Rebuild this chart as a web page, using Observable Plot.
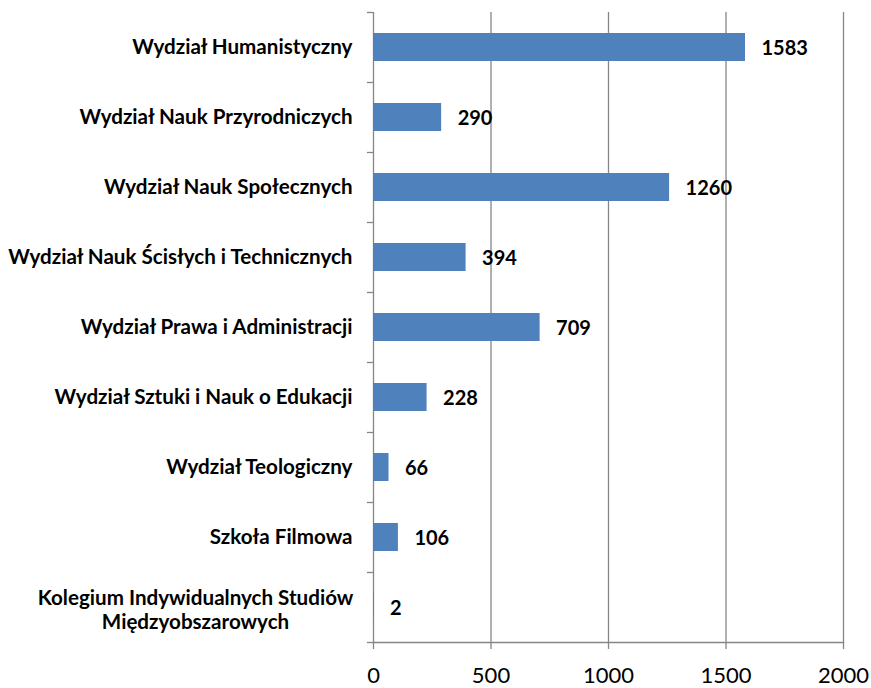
<!DOCTYPE html>
<html>
<head>
<meta charset="utf-8">
<script src="https://cdn.jsdelivr.net/npm/d3@7"></script>
<script src="https://cdn.jsdelivr.net/npm/@observablehq/plot@0.6"></script>
<style>
  html, body { margin: 0; padding: 0; background: #fff; }
</style>
</head>
<body>
<div id="chart"></div>
<script>
const categories = [
  "Wydział Humanistyczny",
  "Wydział Nauk Przyrodniczych",
  "Wydział Nauk Społecznych",
  "Wydział Nauk Ścisłych i Technicznych",
  "Wydział Prawa i Administracji",
  "Wydział Sztuki i Nauk o Edukacji",
  "Wydział Teologiczny",
  "Szkoła Filmowa",
  "Kolegium Indywidualnych Studiów\nMiędzyobszarowych"
];
const values = [1583, 290, 1260, 394, 709, 228, 66, 106, 2];
const xTicks = [0, 500, 1000, 1500, 2000];
const gridValues = [500, 1000, 1500, 2000];

const data = categories.map((c, i) => ({category: c, value: values[i]}));
const multiLine = categories.filter(c => c.includes("\n"));
const lastCat = categories[categories.length - 1];

const W = 871, H = 688, mTop = 12, mBottom = 46;
const step = (H - mTop - mBottom) / categories.length;
const gray = "#868686";
const font = "Lato, 'Open Sans', sans-serif";

const chart = Plot.plot({
  width: W,
  height: H,
  marginLeft: 373,
  marginRight: 28,
  marginTop: mTop,
  marginBottom: mBottom,
  style: {fontFamily: font, background: "#fff", color: "#000"},
  x: {domain: [0, 2000], ticks: xTicks, label: null},
  y: {domain: categories, paddingInner: 0.6, paddingOuter: 0.3, label: null},
  marks: [
    Plot.ruleX(gridValues, {stroke: gray, strokeWidth: 1.3, strokeOpacity: 1}),
    Plot.ruleX([0], {stroke: gray, strokeWidth: 1.3}),
    Plot.frame({anchor: "bottom", stroke: gray, strokeWidth: 1.3}),
    Plot.ruleY(categories, {y: d => d, dy: -step / 2, x1: -26, x2: 0, stroke: gray, strokeWidth: 1.3}),
    Plot.ruleY([lastCat], {y: d => d, dy: step / 2, x1: -26, x2: 0, stroke: gray, strokeWidth: 1.3}),
    Plot.axisX({ticks: xTicks, tickFormat: d3.format("d"), tickSize: 7, tickPadding: 18, stroke: gray,
      strokeWidth: 1.3, strokeOpacity: 1, fontSize: 22, fill: "#000", label: null}),
    Plot.axisY({tickSize: 0, tickPadding: 21, fontSize: 20.6, fontWeight: "bold", fill: "#000", label: null,
      tickFormat: d => d.includes("\n") ? "" : d}),
    Plot.text(multiLine, {y: d => d, text: d => d, frameAnchor: "left", dx: -178, dy: 2, textAnchor: "middle",
      fontSize: 20.6, fontWeight: "bold", fill: "#000", lineHeight: 1.15}),
    Plot.barX(data, {x: "value", y: "category", fill: "#4f81bd"}),
    Plot.text(data, {x: "value", y: "category", text: d => String(d.value), textAnchor: "start", dx: 16, dy: 1,
      fontSize: 20, fontWeight: "bold", fill: "#000"})
  ]
});
document.getElementById("chart").appendChild(chart);
</script>
</body>
</html>
